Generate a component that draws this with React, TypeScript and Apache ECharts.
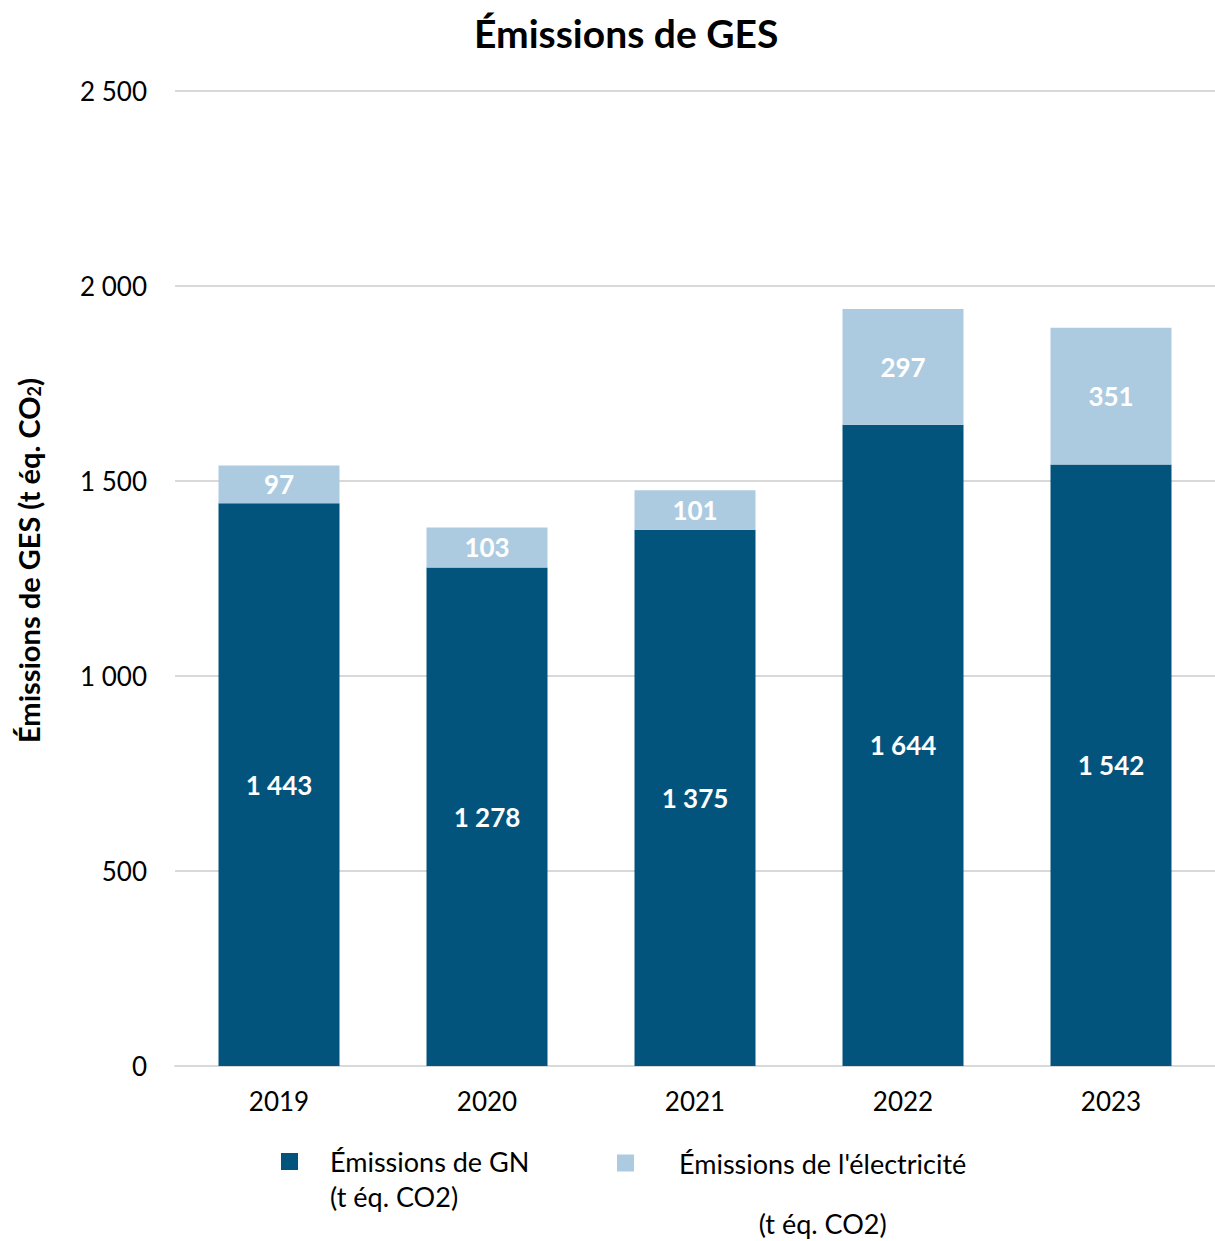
import React, { useEffect, useRef } from "react";
import * as echarts from "echarts";

const years = ["2019", "2020", "2021", "2022", "2023"];
const gnValues = [1443, 1278, 1375, 1644, 1542];
const elecValues = [97, 103, 101, 297, 351];
const yTicks = { min: 0, max: 2500, interval: 500 };

const seriesGN = "Émissions de GN (t éq. CO2)";
const seriesElec = "Émissions de l'électricité (t éq. CO2)";

const FONT = "Lato, Carlito, 'Noto Sans', sans-serif";
const fmt = (v: number) => String(Math.round(v)).replace(/\B(?=(\d{3})+(?!\d))/g, " ");

export default function App() {
  const ref = useRef<HTMLDivElement>(null);
  useEffect(() => {
    if (!ref.current) return;
    const chart = echarts.init(ref.current, undefined, { renderer: "svg" });
    const labelStyle = {
      show: true,
      position: "inside",
      fontFamily: FONT,
      fontSize: 26,
      fontWeight: "bold",
      color: "#fff",
      formatter: (p: any) => fmt(p.value),
    };
    chart.setOption({
      animation: false,
      textStyle: { fontFamily: FONT },
      title: {
        text: "Émissions de GES",
        left: 469,
        top: 8,
        textStyle: { fontFamily: FONT, fontSize: 39, fontWeight: "bold", color: "#000" },
      },
      grid: { left: 175, top: 91, width: 1045, height: 975, containLabel: false },
      legend: [
        {
          data: [seriesGN],
          left: 281,
          top: 1109,
          padding: 0,
          itemWidth: 17,
          itemHeight: 17,
          icon: "rect",
          formatter: () => "{a|Émissions de GN}\n{a|(t éq. CO2)}",
          textStyle: {
            fontFamily: FONT,
            fontSize: 27,
            color: "#000",
            lineHeight: 35,
            padding: [35, 0, 0, 27],
            rich: {
              a: { fontFamily: FONT, fontSize: 27, color: "#000", lineHeight: 35, align: "left" },
            },
          },
        },
        {
          data: [seriesElec],
          left: 617,
          top: 1088,
          padding: 0,
          itemWidth: 17,
          itemHeight: 17,
          icon: "rect",
          formatter: () => "{c|Émissions de l'électricité}\n{c| }\n{c|(t éq. CO2)}",
          textStyle: {
            fontFamily: FONT,
            fontSize: 27,
            color: "#000",
            lineHeight: 30,
            padding: [60, 0, 0, 40],
            rich: {
              c: { fontFamily: FONT, fontSize: 27, color: "#000", lineHeight: 30, align: "center" },
            },
          },
        },
      ],
      xAxis: {
        type: "category",
        data: years,
        boundaryGap: true,
        axisTick: { show: false },
        axisLine: { lineStyle: { color: "#d9d9d9", width: 2 } },
        axisLabel: { fontFamily: FONT, fontSize: 26, color: "#000", margin: 22 },
      },
      yAxis: {
        type: "value",
        min: yTicks.min,
        max: yTicks.max,
        interval: yTicks.interval,
        name: "{b|Émissions de GES (t éq. CO}{s|2}{b|)}",
        nameLocation: "middle",
        nameGap: 132,
        nameRotate: 90,
        nameTextStyle: {
          padding: [0, 0, 0, 36],
          rich: {
            b: { fontFamily: FONT, fontSize: 29, fontWeight: "bold", color: "#000" },
            s: { fontFamily: FONT, fontSize: 18, fontWeight: "bold", color: "#000", verticalAlign: "bottom", padding: [12, 0, 0, 0] },
          },
        },
        axisLine: { show: false },
        axisTick: { show: false },
        splitLine: { lineStyle: { color: "#d9d9d9", width: 2 } },
        axisLabel: { fontFamily: FONT, fontSize: 26, color: "#000", margin: 28, formatter: (v: number) => fmt(v) },
      },
      series: [
        {
          name: seriesGN,
          type: "bar",
          stack: "total",
          data: gnValues,
          barWidth: 121,
          itemStyle: { color: "#02547D" },
          label: labelStyle,
        },
        {
          name: seriesElec,
          type: "bar",
          stack: "total",
          data: elecValues,
          barWidth: 121,
          itemStyle: { color: "#ADCBE0" },
          label: labelStyle,
        },
      ],
    });
    return () => chart.dispose();
  }, []);
  return (
    <div
      ref={ref}
      style={{ position: "absolute", left: 0, top: 0, width: 1215, height: 1241, background: "#fff" }}
    />
  );
}
